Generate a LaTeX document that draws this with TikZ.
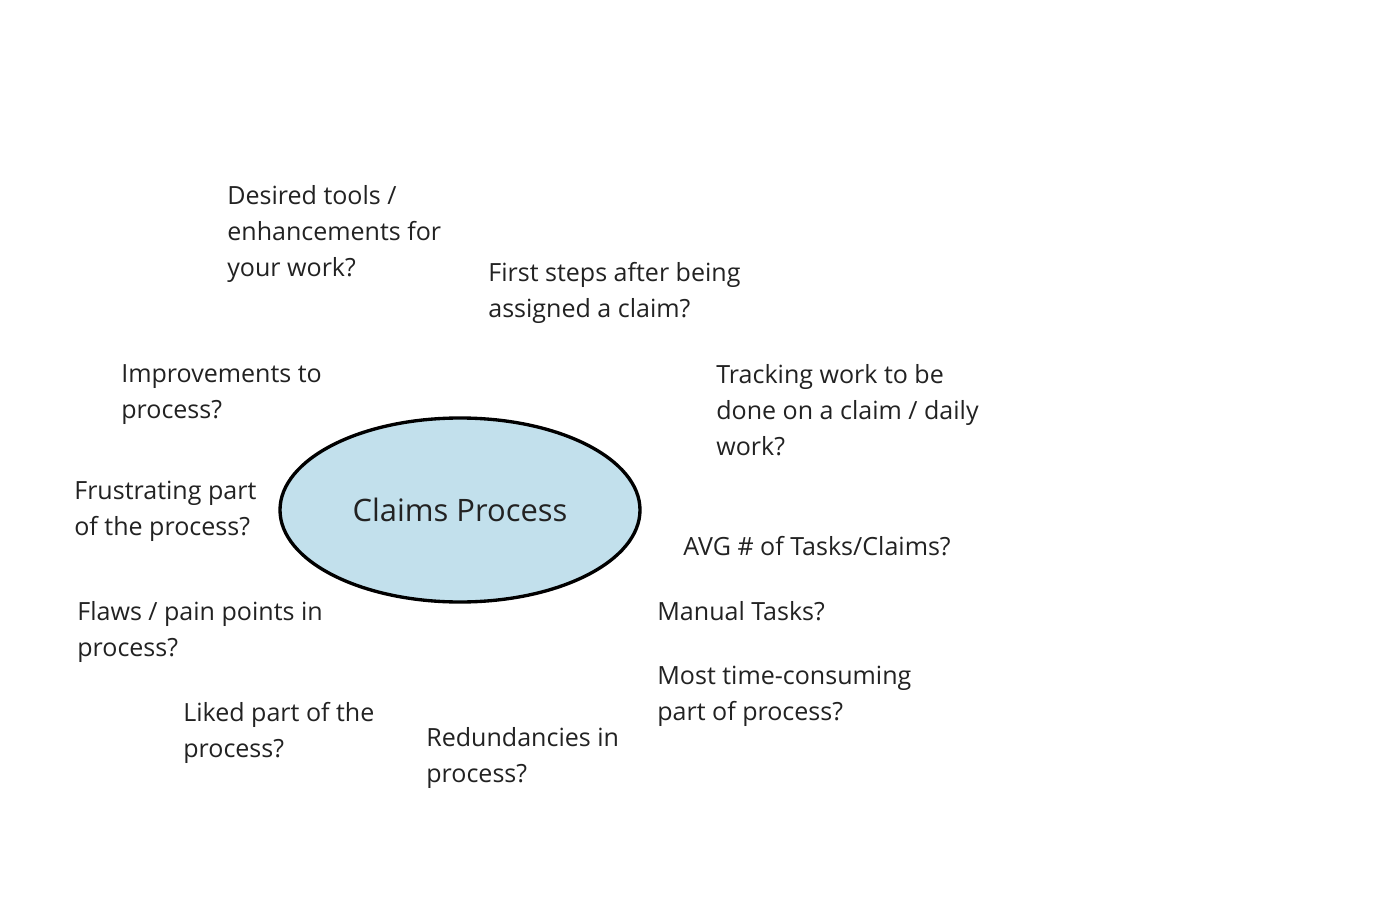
\documentclass[tikz,border=0pt]{standalone}
\usepackage{fontspec}
\setmainfont{Open Sans}
\definecolor{bubble}{HTML}{C2E0EC}
\definecolor{ink}{HTML}{222222}

\begin{document}
\begin{tikzpicture}[x=0.02cm,y=-0.02cm,
  question/.style={anchor=north west,inner sep=0pt,align=left,text=ink,font=\fontsize{14.25}{20.5}\selectfont}]
\useasboundingbox (0,0) rectangle (1400,912);
\fill[white] (0,0) rectangle (1400,912);
% centre topic
\draw[line width=1.9pt,fill=bubble] (460,510) ellipse [x radius=180,y radius=92];
\node[text=ink,font=\fontsize{17.6}{20}\selectfont] (claims) at (460,510) {Claims Process};
% questions round it
\node[question] (tools) at (227,185) {Desired tools /\\enhancements for\\your work?};
\node[question] (firststeps) at (488,262) {First steps after being\\assigned a claim?};
\node[question] (improve) at (121,364) {Improvements to\\process?};
\node[question] (tracking) at (716,364) {Tracking work to be\\done on a claim / daily\\work?};
\node[question] (frustrating) at (74,481) {Frustrating part\\of the process?};
\node[question] (avg) at (683,536) {AVG \# of Tasks/Claims?};
\node[question] (flaws) at (77,601) {Flaws / pain points in\\process?};
\node[question] (manual) at (657,601) {Manual Tasks?};
\node[question] (timeconsuming) at (657,666) {Most time-consuming\\part of process?};
\node[question] (liked) at (183,702) {Liked part of the\\process?};
\node[question] (redundant) at (426,727) {Redundancies in\\process?};
\end{tikzpicture}
\end{document}
